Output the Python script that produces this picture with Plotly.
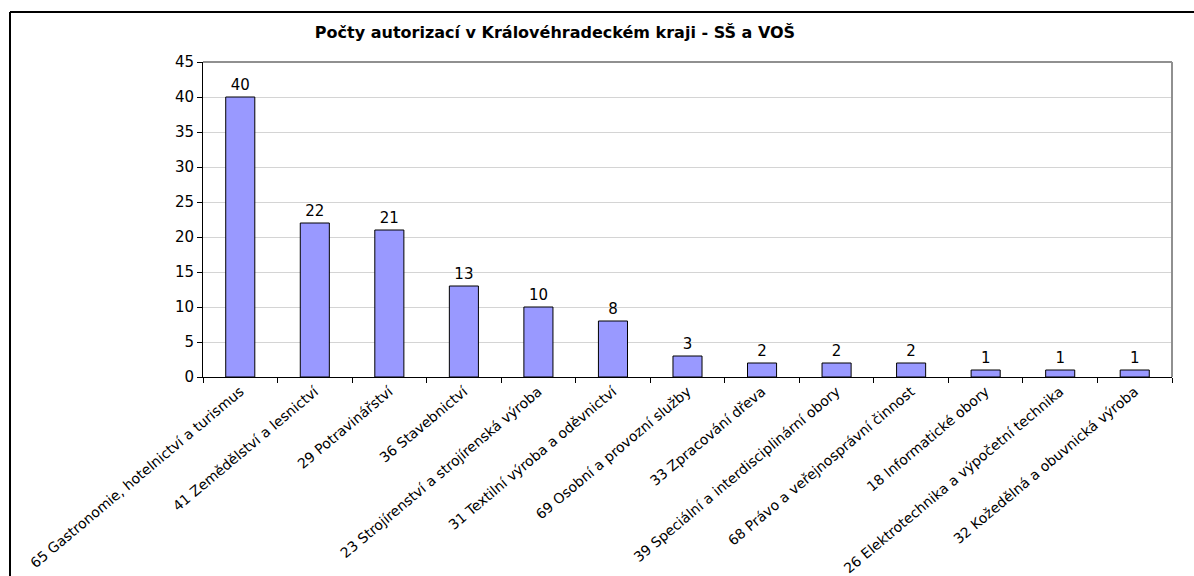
import plotly.graph_objects as go

# --- data ---
obory = [
    "65 Gastronomie, hotelnictví a turismus",
    "41 Zemědělství a lesnictví",
    "29 Potravinářství",
    "36 Stavebnictví",
    "23 Strojírenství a strojírenská výroba",
    "31 Textilní výroba a oděvnictví",
    "69 Osobní a provozní služby",
    "33 Zpracování dřeva",
    "39 Speciální a interdisciplinární obory",
    "68 Právo a veřejnosprávní činnost",
    "18 Informatické obory",
    "26 Elektrotechnika a výpočetní technika",
    "32 Kožedělná a obuvnická výroba",
]
pocty = [40, 22, 21, 13, 10, 8, 3, 2, 2, 2, 1, 1, 1]

fig = go.Figure(go.Bar(
    x=obory,
    y=pocty,
    text=pocty,
    textposition="outside",
    textfont=dict(size=15, color="black"),
    cliponaxis=False,
    marker=dict(color="#9999FF", line=dict(color="black", width=1)),
    width=0.39,
))

W, H = 1194, 576
# plot area in pixels: x 203..1172, y 62..377
L, R, T, B = 203, 1172, 62, 377
def px(x):
    return (x - L) / (R - L)
def py(y):
    return (B - y) / (B - T)

fig.update_layout(
    width=W, height=H,
    margin=dict(l=L, r=W - R, t=T, b=H - B, autoexpand=False),
    paper_bgcolor="white",
    plot_bgcolor="white",
    font=dict(family="DejaVu Sans", color="black"),
    showlegend=False,
    title=dict(
        text="<b>Počty autorizací v Královéhradeckém kraji - SŠ a VOŠ</b>",
        xref="paper", x=px(555), xanchor="center",
        y=1 - 32 / H, yanchor="middle",
        font=dict(size=16, color="black"),
    ),
    bargap=0.6,
    shapes=[
        # outer frame (left and top edges; the rest is off the page)
        dict(type="line", xref="paper", yref="paper",
             x0=px(10), y0=py(12), x1=px(1300), y1=py(12),
             line=dict(color="black", width=2)),
        dict(type="line", xref="paper", yref="paper",
             x0=px(10), y0=py(12), x1=px(10), y1=py(700),
             line=dict(color="black", width=2)),
        # plot area border top / right
        dict(type="line", xref="paper", yref="paper",
             x0=0, y0=1, x1=1, y1=1, line=dict(color="#909090", width=2)),
        dict(type="line", xref="paper", yref="paper",
             x0=1, y0=0, x1=1, y1=1, line=dict(color="#909090", width=2)),
    ],
)

fig.update_xaxes(
    tickangle=-40,
    tickfont=dict(size=14),
    ticks="outside", ticklen=5, tickcolor="black",
    tickson="boundaries",
    showline=True, linecolor="black", linewidth=1,
    showgrid=False,
    automargin=False,
)
fig.update_yaxes(
    range=[0, 45], dtick=5,
    tickfont=dict(size=15),
    ticks="outside", ticklen=5, tickcolor="black",
    showline=True, linecolor="black", linewidth=1,
    showgrid=True, gridcolor="#d4d4d4", gridwidth=1,
    zeroline=False,
    automargin=False,
)

# drop the default page margin so the figure sits at the page corner
fig.write_html(
    "out.html",
    config={"displayModeBar": False},
    post_script="document.body.style.margin='0';document.body.style.overflow='hidden';",
)
